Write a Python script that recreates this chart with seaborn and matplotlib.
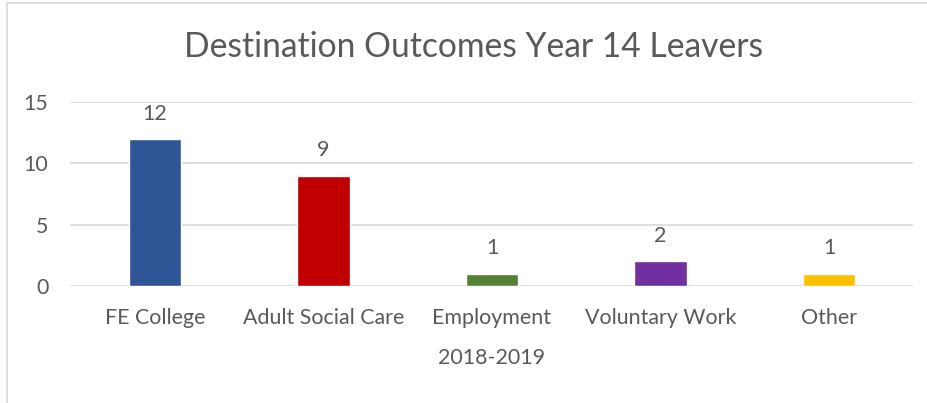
import matplotlib
matplotlib.use("Agg")
import matplotlib.pyplot as plt
import seaborn as sns
import pandas as pd
from matplotlib.lines import Line2D

categories = ["FE College", "Adult Social Care", "Employment", "Voluntary Work", "Other"]
values = [12, 9, 1, 2, 1]
colors = ["#2F5597", "#C00000", "#548235", "#7030A0", "#FFC000"]
title = "Destination Outcomes Year 14 Leavers"
xlabel = "2018-2019"
yticks = [0, 5, 10, 15]

sns.set_theme(style="white")
plt.rcParams['font.family'] = ['Lato', 'DejaVu Sans']
TXT = "#595959"
FS = 15.4

df = pd.DataFrame({"cat": categories, "val": values})

fig = plt.figure(figsize=(9.28, 4.03), dpi=100)
ax = fig.add_axes([70.5/928, 1-286/403, (913.5-70.5)/928, (286-102)/403])

sns.barplot(data=df, x="cat", y="val", hue="cat", palette=colors, order=categories,
            hue_order=categories, legend=False, width=0.31, ax=ax, saturation=1)

ax.set_ylim(0, 15)
ax.set_xlim(-0.5, len(categories) - 0.5)
ax.set_yticks(yticks)
ax.yaxis.grid(True, color="#D9D9D9", linewidth=1.2)
ax.set_axisbelow(True)
for s in ax.spines.values():
    s.set_visible(False)
ax.tick_params(axis="y", length=0, pad=16, labelsize=FS, labelcolor=TXT)
ax.tick_params(axis="x", length=0, pad=16, labelsize=FS, labelcolor=TXT)
ax.set_ylabel("")
ax.set_xlabel(xlabel, fontsize=FS, color=TXT, labelpad=14)

for i, v in enumerate(values):
    ax.annotate(str(v), (i, v), xytext=(0, 11), textcoords="offset points",
                ha="center", va="bottom", fontsize=FS, color=TXT)

fig.text(474/928, 1-47/403, title, ha="center", va="center", fontsize=24.2, color=TXT)

fig.add_artist(Line2D([7/928, 7/928], [0, 1-3/403], color="#D9D9D9", linewidth=1.2, transform=fig.transFigure))
fig.add_artist(Line2D([7/928, 1], [1-3/403, 1-3/403], color="#D9D9D9", linewidth=1.2, transform=fig.transFigure))

fig.savefig("out.png", dpi=100)
